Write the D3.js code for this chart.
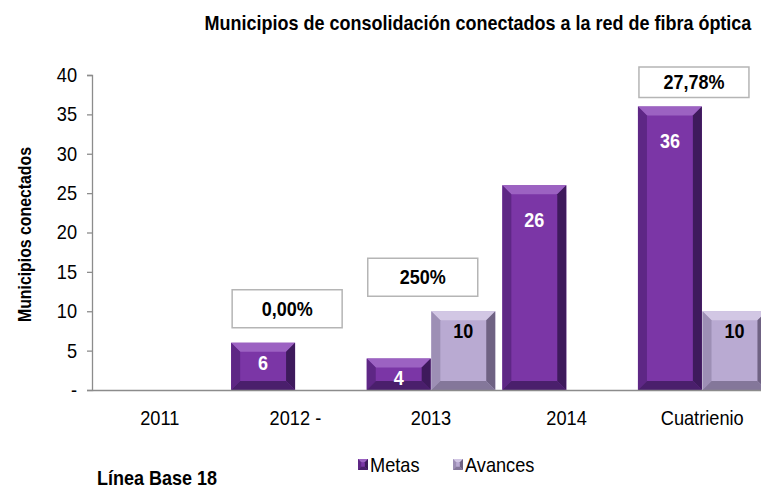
<!DOCTYPE html>
<html>
<head>
<meta charset="utf-8">
<script src="https://cdn.jsdelivr.net/npm/d3@7"></script>
<style>
  body { margin: 0; background: #fff; }
  text { font-family: "Liberation Sans", Arial, sans-serif; }
</style>
</head>
<body>
<script>
var categories = ["2011", "2012 -", "2013", "2014", "Cuatrienio"];
var series = ["Metas", "Avances"];
var metas = [null, 6, 4, 26, 36];
var avances = [null, null, 10, null, 10];
var percents = [null, "0,00%", "250%", null, "27,78%"];
var yTicks = [0, 5, 10, 15, 20, 25, 30, 35, 40];

var width = 761, height = 491,
    margin = { left: 92, right: -9, top: 75, bottom: 101 };

var colors = {
    Metas: { face: "#7b36a6", top: "#9c62c2", left: "#5e2785", right: "#3e1a5c", bottom: "#4a1f6c" },
    Avances: { face: "#b9aad2", top: "#d2c7e4", left: "#9d8fb5", right: "#6f6283", bottom: "#84779a" }
};

var svg = d3.select("body").append("svg")
    .attr("width", width)
    .attr("height", height);

// narrow face look: squeeze text horizontally
function squeeze(sel, k) {
    sel.each(function () {
        var t = d3.select(this);
        var tx = +t.attr("x") || 0;
        t.attr("x", tx / k)
            .attr("transform", (t.attr("transform") || "") + " scale(" + k + ",1)");
    });
}

var x = d3.scaleBand()
    .domain(categories)
    .range([margin.left, width - margin.right]);

var xs = d3.scaleBand()
    .domain(series)
    .range([0, x.bandwidth()])
    .paddingOuter(0.055)
    .paddingInner(0.01);

var y = d3.scaleLinear()
    .domain([0, 40])
    .range([height - margin.bottom, margin.top]);

// title
svg.append("text")
    .attr("x", 478)
    .attr("y", 30)
    .attr("text-anchor", "middle")
    .style("font-size", "21px")
    .style("font-weight", "bold")
    .text("Municipios de consolidación conectados a la red de fibra óptica")
    .call(squeeze, 0.857);

// y axis
var yAxis = svg.append("g")
    .attr("transform", "translate(" + margin.left + ",0)")
    .call(d3.axisLeft(y).tickValues(yTicks).tickSize(5).tickPadding(10)
        .tickFormat(d => d === 0 ? "-" : d));
yAxis.selectAll("path, line").attr("stroke", "#8c8c8c").attr("stroke-width", 1.3);
yAxis.selectAll("text").style("font-size", "20px").attr("fill", "#000").call(squeeze, 0.91);

svg.append("text")
    .attr("transform", "translate(31," + (y(20) + 2) + ") rotate(-90)")
    .attr("text-anchor", "middle")
    .style("font-size", "18px")
    .style("font-weight", "bold")
    .text("Municipios conectados")
    .call(squeeze, 0.88);

// bars data
var bars = [];
categories.forEach((c, i) => {
    if (metas[i] != null) bars.push({ cat: c, s: "Metas", v: metas[i] });
    if (avances[i] != null) bars.push({ cat: c, s: "Avances", v: avances[i] });
});

function bevel(g, x0, y0, w, h, col) {
    var b = Math.min(9, h / 3.5);
    var x1 = x0 + w, y1 = y0 + h;
    g.append("rect").attr("x", x0).attr("y", y0).attr("width", w).attr("height", h).attr("fill", col.face);
    g.append("polygon").attr("fill", col.top)
        .attr("points", [[x0, y0], [x1, y0], [x1 - b, y0 + b], [x0 + b, y0 + b]].join(" "));
    g.append("polygon").attr("fill", col.left)
        .attr("points", [[x0, y0], [x0 + b, y0 + b], [x0 + b, y1 - b], [x0, y1]].join(" "));
    g.append("polygon").attr("fill", col.right)
        .attr("points", [[x1, y0], [x1, y1], [x1 - b, y1 - b], [x1 - b, y0 + b]].join(" "));
    g.append("polygon").attr("fill", col.bottom)
        .attr("points", [[x0, y1], [x0 + b, y1 - b], [x1 - b, y1 - b], [x1, y1]].join(" "));
}

var barG = svg.append("g");
bars.forEach(d => {
    var x0 = x(d.cat) + xs(d.s), w = xs.bandwidth();
    var y0 = y(d.v), h = y(0) - y(d.v);
    var g = barG.append("g");
    bevel(g, x0, y0, w, h, colors[d.s]);
    var off = h < 100 ? 27 : 42;
    g.append("text")
        .attr("x", x0 + w / 2)
        .attr("y", y0 + off)
        .attr("text-anchor", "middle")
        .attr("fill", d.s === "Metas" ? "#fff" : "#000")
        .style("font-size", "20px")
        .style("font-weight", "bold")
        .text(d.v)
        .call(squeeze, 0.9);
});

// x axis
var xAxis = svg.append("g")
    .attr("transform", "translate(0," + y(0) + ")")
    .call(d3.axisBottom(x).tickSize(0).tickPadding(21));
xAxis.select("path").attr("stroke", "#8c8c8c").attr("stroke-width", 1.5);
xAxis.selectAll("text").style("font-size", "20px").attr("fill", "#000").call(squeeze, 0.91);

// percentage boxes
categories.forEach((c, i) => {
    if (!percents[i]) return;
    var top = d3.max([metas[i], avances[i]]);
    var bx = x(c) + xs("Metas") + 1, bw = 110, bh = 38;
    var by = y(top) - bh - 15;
    if (by < 67) { by = 67; bh = y(top) - 9 - by; }
    svg.append("rect")
        .attr("x", bx).attr("y", by)
        .attr("width", bw).attr("height", bh)
        .attr("fill", "#fff")
        .attr("stroke", "#b5b5b5")
        .attr("stroke-width", 1.5);
    svg.append("text")
        .attr("x", bx + bw / 2)
        .attr("y", by + bh / 2 + 7)
        .attr("text-anchor", "middle")
        .style("font-size", "20px")
        .style("font-weight", "bold")
        .text(percents[i])
        .call(squeeze, 0.9);
});

// legend
var legend = svg.append("g").attr("transform", "translate(358,459)");
series.forEach((s, i) => {
    var lg = legend.append("g").attr("transform", "translate(" + (i * 95) + ",0)");
    bevel(lg, 0, 0, 10, 11, colors[s]);
    lg.append("text")
        .attr("x", 12)
        .attr("y", 13)
        .style("font-size", "20px")
        .text(s)
        .call(squeeze, 0.91);
});

svg.append("text")
    .attr("x", 97)
    .attr("y", 485)
    .style("font-size", "20px")
    .style("font-weight", "bold")
    .text("Línea Base 18")
    .call(squeeze, 0.9);
</script>
</body>
</html>
